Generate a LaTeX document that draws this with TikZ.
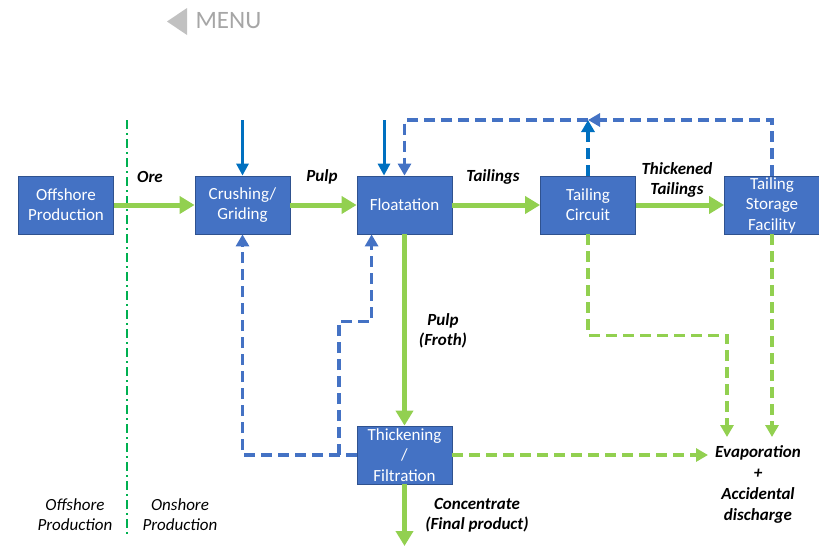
\documentclass[tikz,border=0pt]{standalone}
\usepackage{fontspec}
\setmainfont{Carlito}
\usetikzlibrary{arrows.meta,calc}
\definecolor{boxblue}{HTML}{4472C4}
\definecolor{boxedge}{HTML}{2F528F}
\definecolor{lgreen}{HTML}{92D050}
\definecolor{dblue}{HTML}{0070C0}
\definecolor{dgreen}{HTML}{00B050}
\definecolor{menugray}{HTML}{A6A6A6}
\tikzset{
  procbox/.style={draw=boxedge, line width=0.8pt, fill=boxblue, text=white, align=center,
    minimum width=95pt, minimum height=58pt, inner sep=1pt,
    font=\fontsize{17}{20}\selectfont},
  lbl/.style={align=center, font=\fontsize{17}{20}\selectfont\bfseries\itshape},
  plainlbl/.style={align=center, font=\fontsize{17}{20}\selectfont\itshape},
  garrow/.style={draw=lgreen, line width=5pt, -{Triangle[length=15pt,width=17pt]}},
  gdash/.style={draw=lgreen, line width=3.5pt, dash pattern=on 11pt off 6pt, -{Triangle[length=12pt,width=13pt]}},
  bdash/.style={draw=boxblue, line width=3.5pt, dash pattern=on 11pt off 6pt, -{Triangle[length=12pt,width=13pt]}},
  bdashdark/.style={draw=dblue, line width=3.5pt, dash pattern=on 11pt off 6pt, -{Triangle[length=12pt,width=13pt]}},
  bsolid/.style={draw=dblue, line width=3pt, -{Triangle[length=12pt,width=12pt]}},
  divider/.style={draw=dgreen, line width=2pt, dash pattern=on 9pt off 4pt on 2pt off 4pt},
}
\begin{document}
\begin{tikzpicture}[x=1pt,y=-1pt]
\useasboundingbox (0,0) rectangle (819,547);
% MENU
\fill[menugray!70] (187,8) -- (167,21.5) -- (187,35) -- cycle;
\node[text=menugray, font=\fontsize{25}{28}\selectfont, anchor=west] (menu) at (192,21) {MENU};
% divider
\coordinate (dtop) at (127,120);
\coordinate (dbot) at (127,537);
\draw[divider] (dtop) -- (dbot);
% boxes
\node[procbox] (off) at (66,205) {Offshore\\Production};
\node[procbox] (crush) at (242.5,205) {Crushing/\\Griding};
\node[procbox] (float) at (404.5,205) {Floatation};
\node[procbox] (tc) at (588,205) {Tailing\\Circuit};
\node[procbox] (tsf) at (772,205) {};
\node[align=center, text=white, font=\fontsize{17}{20.5}\selectfont] (tsft) at (772,205) {Tailing\\Storage\\Facility};
\node[procbox] (thick) at (404.5,455) {};
\node[align=center, text=white, font=\fontsize{17}{20.5}\selectfont] (thickt) at (404.5,455) {Thickening\\/\\Filtration};
% labels
\node[lbl] (ore) at (150,177) {Ore};
\node[lbl] (pulp) at (322,177) {Pulp};
\node[lbl] (tail) at (493,177) {Tailings};
\node[lbl] (thtail) at (677,180) {Thickened\\Tailings};
\node[lbl] (froth) at (443,331) {Pulp\\(Froth)};
\node[lbl] (conc) at (477,515) {Concentrate\\(Final product)};
\node[lbl, font=\fontsize{17}{21}\selectfont\bfseries\itshape] (ev) at (758,484) {Evaporation\\+\\Accidental\\discharge};
\node[plainlbl] (offp) at (75,515) {Offshore\\Production};
\node[plainlbl] (onp) at (180,515) {Onshore\\Production};
% green main flow
\draw[garrow] (off) -- (crush);
\draw[garrow] (crush) -- (float);
\draw[garrow] (float) -- (tc);
\draw[garrow] (tc) -- (tsf);
\draw[garrow] (float.south) -- (thick.north);
\coordinate (prod) at (404.5,546);
\draw[garrow] (thick.south) -- (prod);
% green dashed
\coordinate (ev1) at (727,437);
\coordinate (ev2) at (772,437);
\coordinate (ev3) at (708,455);
\draw[gdash] (tc.south) -- ++(0,101) -| (ev1);
\draw[gdash] (tsf.south) -- (ev2);
\draw[gdash] (thick.east) -- (ev3);
% blue dashed returns
\draw[bdash] (thick.west) -| (crush.south);
\coordinate (j1) at (339,455);
\draw[bdash] (j1) |- ($(float.south west)+(15,87)$) -- ($(float.south west)+(15,0)$);
\coordinate (tcup) at (588,120);
\draw[bdash] (tsf.north) |- (tcup);
\draw[bdash] (tcup) -| (float.north);
\draw[bdashdark] (tc.north) -- (tcup);
% solid blue inputs
\coordinate (in1) at (242.5,120);
\coordinate (in2) at (384,120);
\draw[bsolid] (in1) -- (crush.north);
\draw[bsolid] (in2) -- (in2 |- float.north);
\end{tikzpicture}
\end{document}
